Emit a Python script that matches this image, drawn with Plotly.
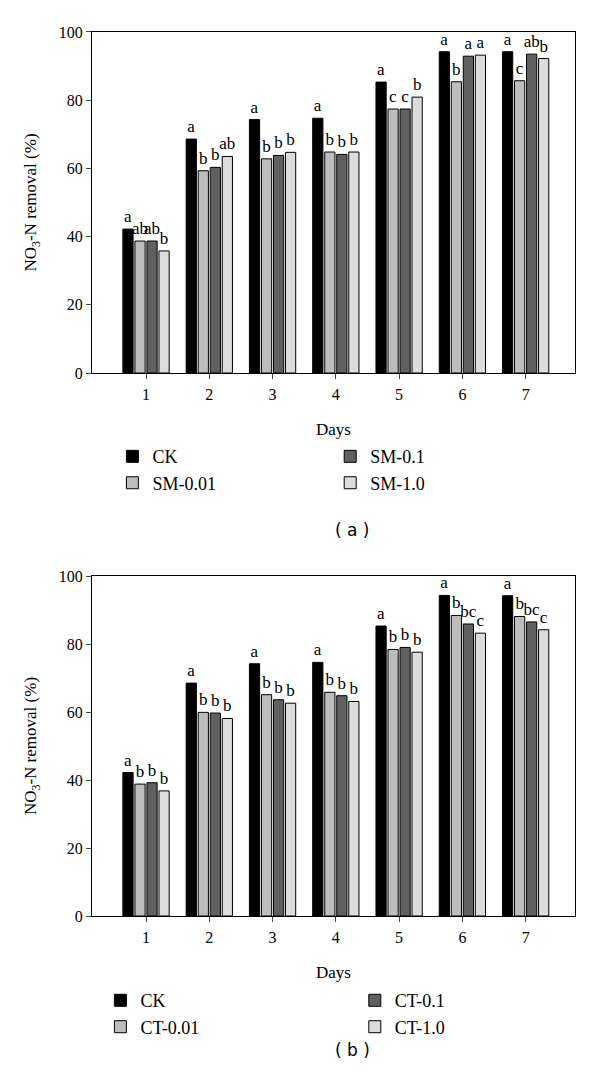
import plotly.graph_objects as go

# ==========================================
# DATA
# ==========================================

days = [1, 2, 3, 4, 5, 6, 7]

# panel (a)
sm_names = ["CK", "SM-0.01", "SM-0.1", "SM-1.0"]
sm_ck = [42.2, 68.6, 74.3, 74.7, 85.3, 94.2, 94.2]
sm_001 = [38.7, 59.3, 62.8, 64.8, 77.4, 85.4, 85.7]
sm_01 = [38.7, 60.3, 63.8, 64.1, 77.4, 92.9, 93.5]
sm_10 = [35.8, 63.5, 64.7, 64.8, 80.9, 93.2, 92.2]
sm_letters = [
    ["a", "a", "a", "a", "a", "a", "a"],
    ["ab", "b", "b", "b", "c", "b", "c"],
    ["ab", "b", "b", "b", "c", "a", "ab"],
    ["b", "ab", "b", "b", "b", "a", "b"],
]

# panel (b)
ct_names = ["CK", "CT-0.01", "CT-0.1", "CT-1.0"]
ct_ck = [42.2, 68.5, 74.2, 74.6, 85.3, 94.3, 94.2]
ct_001 = [38.8, 59.9, 65.1, 65.8, 78.4, 88.4, 88.1]
ct_01 = [39.2, 59.7, 63.6, 64.8, 79.0, 85.9, 86.5]
ct_10 = [36.8, 58.1, 62.6, 63.1, 77.6, 83.2, 84.2]
ct_letters = [
    ["a", "a", "a", "a", "a", "a", "a"],
    ["b", "b", "b", "b", "b", "b", "b"],
    ["b", "b", "b", "b", "b", "bc", "bc"],
    ["b", "b", "b", "b", "b", "c", "c"],
]

colors = ["#000000", "#bdbdbd", "#606060", "#dcdcdc"]

SERIF = "Liberation Serif"

fig = go.Figure()

# ==========================================
# BARS
# ==========================================

panels = [
    ("x", "y", sm_names, [sm_ck, sm_001, sm_01, sm_10], sm_letters, ["legend", "legend", "legend2", "legend2"]),
    ("x2", "y2", ct_names, [ct_ck, ct_001, ct_01, ct_10], ct_letters, ["legend3", "legend3", "legend4", "legend4"]),
]

for xa, ya, names, series, letters, legs in panels:
    for i in range(4):
        fig.add_trace(go.Bar(
            x=days,
            y=series[i],
            name=names[i],
            xaxis=xa,
            yaxis=ya,
            legend=legs[i],
            marker=dict(color=colors[i], line=dict(color="black", width=1)),
            text=letters[i],
            textposition="outside",
            constraintext="none",
            cliponaxis=False,
            textfont=dict(family=SERIF, size=17, color="black"),
            outsidetextfont=dict(family=SERIF, size=17, color="black"),
        ))

# ==========================================
# AXES
# ==========================================

xcommon = dict(
    range=[0.146, 7.78],
    tickvals=days,
    ticks="outside",
    ticklen=5,
    ticklabelstandoff=2,
    showline=True,
    linecolor="black",
    linewidth=1,
    mirror=True,
    showgrid=False,
    zeroline=False,
    automargin=False,
    tickfont=dict(family=SERIF, size=16, color="black"),
    title=dict(text="Days", font=dict(family=SERIF, size=17, color="black"), standoff=20),
    domain=[0.14, 0.945],
)
ycommon = dict(
    range=[0, 100],
    tickvals=[0, 20, 40, 60, 80, 100],
    ticks="outside",
    ticklen=5,
    showline=True,
    linecolor="black",
    linewidth=1,
    mirror=True,
    showgrid=False,
    zeroline=False,
    automargin=False,
    tickfont=dict(family=SERIF, size=16, color="black"),
    title=dict(text="NO<sub>3</sub>-N removal (%)",
               font=dict(family=SERIF, size=17, color="black"), standoff=17),
)

fig.update_layout(
    xaxis=dict(xcommon, anchor="y"),
    yaxis=dict(ycommon, anchor="x", domain=[0.6648, 0.978]),
    xaxis2=dict(xcommon, anchor="y2"),
    yaxis2=dict(ycommon, anchor="x2", domain=[0.1662, 0.4784]),
)

# ==========================================
# LEGENDS
# ==========================================

legfont = dict(family=SERIF, size=18, color="black")
fig.update_layout(
    legend=dict(x=0.174, y=0.605, xanchor="left", yanchor="top", font=legfont, bgcolor="rgba(0,0,0,0)"),
    legend2=dict(x=0.537, y=0.605, xanchor="left", yanchor="top", font=legfont, bgcolor="rgba(0,0,0,0)"),
    legend3=dict(x=0.154, y=0.1055, xanchor="left", yanchor="top", font=legfont, bgcolor="rgba(0,0,0,0)"),
    legend4=dict(x=0.578, y=0.1055, xanchor="left", yanchor="top", font=legfont, bgcolor="rgba(0,0,0,0)"),
)

# ==========================================
# PANEL LABELS
# ==========================================

fig.add_annotation(x=0.574, y=0.5206, xref="paper", yref="paper", text="( a )", showarrow=False,
                   xanchor="center", yanchor="middle",
                   font=dict(family="DejaVu Sans", size=17, color="black"))
fig.add_annotation(x=0.574, y=0.0432, xref="paper", yref="paper", text="( b )", showarrow=False,
                   xanchor="center", yanchor="middle",
                   font=dict(family="DejaVu Sans", size=17, color="black"))

fig.update_layout(
    width=600,
    height=1089,
    barmode="group",
    bargap=0.24,
    bargroupgap=0.15,
    plot_bgcolor="white",
    paper_bgcolor="white",
    margin=dict(l=0, r=0, t=0, b=0, autoexpand=False),
)

fig.write_html("out.html")
